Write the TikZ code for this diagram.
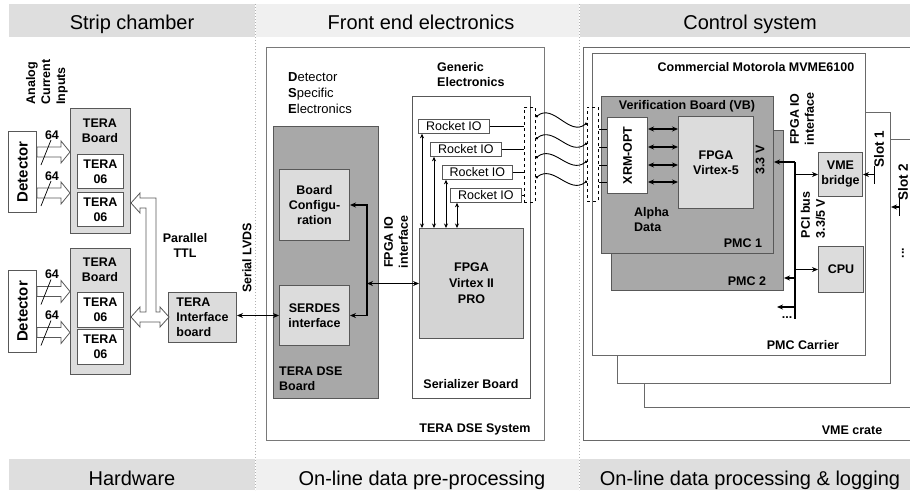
\documentclass[tikz,border=0pt]{standalone}
\usepackage{fontspec}
\setmainfont{Liberation Sans}
\usetikzlibrary{arrows.meta,calc,positioning}

\definecolor{bandA}{HTML}{DEDEDE}
\definecolor{bandB}{HTML}{F0F0F0}
\definecolor{edge}{HTML}{585858}
\definecolor{light}{HTML}{DCDCDC}
\definecolor{dark}{HTML}{A8A8A8}
\definecolor{chip}{HTML}{D4D4D4}

\newcommand{\hfont}{\fontsize{20}{24}\selectfont}
\newcommand{\bfont}{\fontsize{12.5}{15}\selectfont\bfseries}
\newcommand{\nfont}{\fontsize{12.5}{15}\selectfont}
\newcommand{\mfont}{\fontsize{13}{16}\selectfont}
\newcommand{\dfont}{\fontsize{15}{18}\selectfont\bfseries}
\newcommand{\sfont}{\fontsize{13.5}{16}\selectfont\bfseries}
\newcommand{\wfont}{\fontsize{12.5}{16}\selectfont\bfseries}

% hollow bus arrow between two points on one line
\newcommand{\busarrow}[2]{%
  \draw[hollow] let \p1=(#1), \p2=(#2) in
    ({\x1},{\y1+5pt}) -- ({\x2-9pt},{\y1+5pt}) -- ({\x2-9pt},{\y1+11pt})
    -- ({\x2},{\y1}) -- ({\x2-9pt},{\y1-11pt}) -- ({\x2-9pt},{\y1-5pt})
    -- ({\x1},{\y1-5pt}) -- cycle;}

\begin{document}
\begin{tikzpicture}[x=1pt,y=-1pt,>={Stealth[length=6pt,width=5pt]},
    box/.style={draw=edge,line width=1pt,anchor=north west,inner sep=0pt,font=\bfont,align=center},
    sz/.style 2 args={minimum width=#1pt,minimum height=#2pt},
    txt/.style={font=\bfont,align=center,inner sep=0pt},
    hdr/.style={font=\hfont,anchor=base,inner sep=0pt},
    hollow/.style={draw=edge,fill=white,line width=0.8pt},
    conn/.style={draw=black,line width=0.8pt,dashed,anchor=north west,inner sep=0pt},
    link/.style={line width=1.4pt},
    thinlink/.style={line width=0.8pt,{Stealth[length=4.5pt,width=4pt]}-{Stealth[length=4.5pt,width=4pt]}},
    wave/.style={line width=0.9pt,{Circle[length=2.5pt]}-{Circle[length=2.5pt]}}]

  \useasboundingbox (0,0) rectangle (910,490);

  % header and footer bands
  \fill[bandA] (9,4) rectangle (255,37);
  \fill[bandB] (256,4) rectangle (579,37);
  \fill[bandA] (580,4) rectangle (910,37);
  \fill[bandA] (9,459) rectangle (255,490);
  \fill[bandB] (256,459) rectangle (579,490);
  \fill[bandA] (580,459) rectangle (910,490);
  \node[hdr] (h1) at (132,29) {Strip chamber};
  \node[hdr] (h2) at (421,29) {Front end electronics};
  \node[hdr] (h3) at (750,29) {Control system};
  \node[hdr] (f1) at (132,485) {Hardware};
  \node[hdr] (f2) at (422,485) {On-line data pre-processing};
  \node[hdr] (f3) at (750,485) {On-line data processing \& logging};
  \draw[black!30,dotted,line width=1pt] (255.5,4) -- (255.5,490);
  \draw[black!30,dotted,line width=1pt] (579.5,4) -- (579.5,490);

  % strip chamber: detectors and tera boards
  \node[box,sz={28}{81}] (det1) at (8,131) {};
  \node[box,sz={28}{82}] (det2) at (8,270) {};
  \node[txt,rotate=90,font=\dfont] (det1t) at (det1.center) {Detector};
  \node[txt,rotate=90,font=\dfont] (det2t) at (det2.center) {Detector};
  \node[box,fill=light,sz={60}{125}] (brd1) at (70,108) {};
  \node[box,fill=light,sz={60}{126}] (brd2) at (70,248) {};
  \node[txt] (brd1t) at (100,131) {TERA\\Board};
  \node[txt] (brd2t) at (100,270) {TERA\\Board};
  \node[box,fill=white,sz={46}{34}] (chipA) at (77,154) {TERA\\06};
  \node[box,fill=white,sz={46}{34}] (chipB) at (77,192) {TERA\\06};
  \node[box,fill=white,sz={46}{35}] (chipC) at (77,292) {TERA\\06};
  \node[box,fill=white,sz={46}{35}] (chipD) at (77,329) {TERA\\06};
  \node[box,fill=light,sz={68}{50},align=left] (iface) at (168,292) {TERA\\Interface\\board};
  \node[txt,rotate=90,align=left] (ain) at (47,82) {Analog\\Current\\Inputs};

  % analog inputs, 64 channels each
  \coordinate (in1) at ($(det1.east)+(0,-20)$);
  \coordinate (in2) at ($(det1.east)+(0,21)$);
  \coordinate (in3) at ($(det2.east)+(0,-20)$);
  \coordinate (in4) at ($(det2.east)+(0,21)$);
  \foreach \i/\b in {in1/brd1,in2/brd1,in3/brd2,in4/brd2} {
    \busarrow{\i}{\i -| \b.west}
    \draw[line width=0.7pt] (\i) ++(4,13) -- ++(10,-25);
    \node[txt] at ($(\i)+(15,-17)$) {64};
  }

  % parallel ttl bus
  \coordinate (ttl) at (brd1.east |- 0,203);
  \draw[hollow] (ttl) -- ++(9,-10) -- ++(0,5) -- ++(16,0) -- ++(0,114)
    -- ++(4,0) -- ++(0,-5) -- ++(9,10) -- ++(-9,10) -- ++(0,-5) -- ++(-20,0)
    -- ++(0,5) -- ++(-9,-10) -- ++(9,-10) -- ++(0,5) -- ++(6,0) -- ++(0,-104)
    -- ++(-6,0) -- ++(0,5) -- cycle;
  \node[txt] (ttlt) at (185,245) {Parallel\\TTL};
  \node[txt,rotate=90] (lvds) at (247,258) {Serial LVDS};

  % front end: tera dse system
  \node[box,draw=edge!80,sz={278}{393}] (sys) at (266,47) {};
  \node[box,fill=dark,sz={105}{272}] (dseb) at (273,126) {};
  \node[box,fill=light,sz={70}{71}] (cfg) at (279,169) {Board\\Configu-\\ration};
  \node[box,fill=light,sz={70}{60}] (serdes) at (279,285) {SERDES\\interface};
  \node[txt,anchor=north west,align=left] (dsebt) at (279,367) {TERA DSE\\Board};
  \node[anchor=north west,align=left,inner sep=0pt,font=\mfont] (dsel) at (288,72)
    {\textbf{D}etector\\\textbf{S}pecific\\\textbf{E}lectronics};
  \node[box,fill=white,sz={118}{302}] (ser) at (412,96) {};
  \node[txt,anchor=north west,align=left] (gen) at (437,62) {Generic\\Electronics};
  \node[box,fill=chip,sz={104}{110},font=\wfont] (fpga2) at (419,228) {FPGA\\Virtex II\\PRO};
  \node[box,fill=white,line width=0.8pt,font=\nfont,sz={71}{14}] (rio1) at (418,119) {Rocket IO};
  \node[box,fill=white,line width=0.8pt,font=\nfont,sz={71}{14}] (rio2) at (430,142) {Rocket IO};
  \node[box,fill=white,line width=0.8pt,font=\nfont,sz={70}{14}] (rio3) at (442,165) {Rocket IO};
  \node[box,fill=white,line width=0.8pt,font=\nfont,sz={71}{14}] (rio4) at (450,188) {Rocket IO};
  \node[conn,sz={11}{95}] (conL) at (524,107) {};
  \node[txt] (sert) at (471,384) {Serializer Board};
  \node[txt] (syst) at (475,429) {TERA DSE System};
  \node[txt,rotate=90] (fio1) at (396,242) {FPGA IO\\interface};

  % links inside the dse system
  \coordinate (dbus) at (367,0);
  \draw[link,<->] (cfg.east) -- (cfg.east -| dbus) -- (serdes.east -| dbus) -- (serdes.east);
  \draw[link,<->] (fpga2.west -| dbus) -- (fpga2.west);
  \draw[link,<->] (iface.east |- serdes.west) -- (serdes.west);
  \foreach \n/\x in {1/422,2/434,3/446,4/457}
    \draw[thinlink] (rio\n.south -| \x,0) -- (fpga2.north -| \x,0);
  \foreach \n in {1,...,4}
    \draw[line width=0.8pt] (rio\n.east) -- (rio\n.east -| conL.west);

  % control system: vme crate, slots, pmc carrier
  \node[box,draw=edge!90,sz={332}{393}] (crate) at (583,47) {};
  \node[box,draw=edge!90,fill=white,sz={271}{268}] (slot2) at (644,139) {};
  \node[box,draw=edge!90,fill=white,sz={273}{271}] (slot1) at (617,112) {};
  \node[box,draw=edge!90,fill=white,sz={273}{302}] (carrier) at (592,53) {};
  \node[box,fill=dark,sz={172}{160}] (pmc2) at (611,130) {};
  \node[box,fill=dark,sz={172}{157}] (pmc1) at (601,96) {};
  \node[box,fill=white,sz={40}{76}] (xrm) at (607,117) {};
  \node[txt,rotate=90] (xrmt) at (xrm.center) {XRM-OPT};
  \node[box,fill=light,sz={75}{92}] (fpga5) at (678,116) {FPGA\\Virtex-5};
  \node[conn,sz={11}{94}] (conR) at (587,107) {};
  \node[box,fill=light,sz={44}{44}] (vme) at (818,152) {VME\\bridge};
  \node[box,fill=light,sz={45}{46}] (cpu) at (818,246) {CPU};

  \node[txt] (cmm) at (756,67) {Commercial Motorola MVME6100};
  \node[txt] (vbt) at (687,106) {Verification Board (VB)};
  \node[txt,rotate=90] (v33) at (760,160) {3.3 V};
  \node[txt,anchor=north west,align=left] (alpha) at (634,207) {Alpha\\Data};
  \node[txt] (pmc1t) at (743,243) {PMC 1};
  \node[txt] (pmc2t) at (747,281) {PMC 2};
  \node[txt,rotate=90] (fio2) at (802,119) {FPGA IO\\interface};
  \node[txt,rotate=90,align=left] (pcit) at (813,215) {PCI bus\\3.3/5 V};
  \node[txt] (pmcc) at (803,345) {PMC Carrier};
  \node[txt] (cratet) at (852,430) {VME crate};
  \node[txt,rotate=90,font=\sfont] (s1t) at (879,149) {Slot 1};
  \node[txt,rotate=90,font=\sfont] (s2t) at (903,182) {Slot 2};
  \node[txt,rotate=90] (s3t) at (903,253) {...};

  % optical links
  \foreach \a/\b in {117/123,139/143,158/161,178/181}
    \draw[wave] (conL.east |- 0,\a) .. controls +(18,-14) and +(-18,14) .. (conR.west |- 0,\b);
  \foreach \y in {129,147,165,182} {
    \draw[line width=0.8pt] (conR.east |- 0,\y) -- (xrm.west |- 0,\y);
    \draw[link,<->] (xrm.east |- 0,\y) -- (fpga5.west |- 0,\y);
  }

  % pci bus
  \coordinate (pciT) at (795,162);
  \coordinate (pciB) at (795,319);
  \coordinate (more) at (777,307);
  \draw[link] (pciT) -- (pciB);
  \draw[link,->] (pciT) -- (pciT -| pmc1.east);
  \draw[link,->] (vme.west -| pciT) -- (vme.west);
  \draw[link,->] (cpu.west -| pciT) -- (cpu.west);
  \draw[link,->] (pciT |- 0,278) -- (pmc2.east |- 0,278);
  \draw[link,->] (pciT |- more) -- (more);
  \node[txt] (dots) at (787,318) {...};

  % vme backplane slots
  \coordinate (s1) at (875,177);
  \coordinate (s2) at (900,207);
  \draw[link,{Stealth[length=6pt,width=5pt]}-{Bar[width=18pt]}] (vme.east) -- (vme.east -| s1);
  \draw[link,{Stealth[length=6pt,width=5pt]}-{Bar[width=18pt]}] (slot1.east |- s2) -- (s2);
\end{tikzpicture}
\end{document}
